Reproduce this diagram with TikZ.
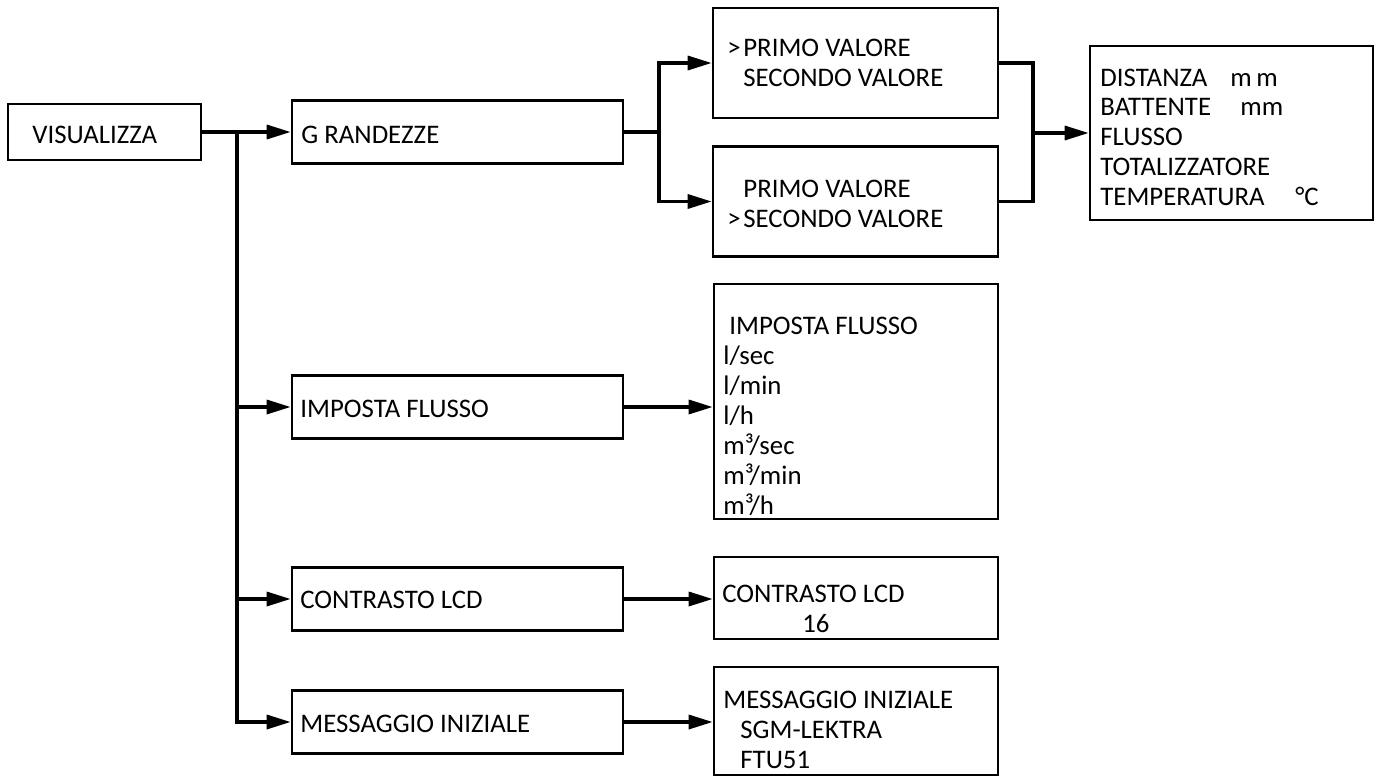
\documentclass[tikz,border=0pt]{standalone}
\usepackage{fontspec}
\setmainfont{Carlito}
\usetikzlibrary{arrows.meta}
\begin{document}
\begin{tikzpicture}[x=0.5pt, y=-0.5pt,
    box/.style={draw, line width=1.3pt, inner sep=0pt},
    txt/.style={anchor=base west, inner sep=0pt, align=left, font=\fontsize{13.4pt}{15pt}\selectfont},
    link/.style={line width=1.65pt},
    arr/.style={line width=1.65pt, -{Triangle[length=12pt, width=7pt]}}]
            \useasboundingbox (0,0) rectangle (1382,776);
            \node[box, minimum width=96.5pt, minimum height=28pt] (vis) at (104.5,132) {};
            \node[box, minimum width=165.5pt, minimum height=31.5pt] (grand) at (457.5,132) {};
            \node[box, minimum width=165.5pt, minimum height=31.5pt] (imp) at (457.5,407) {};
            \node[box, minimum width=165.5pt, minimum height=31.5pt] (contr) at (457.5,599) {};
            \node[box, minimum width=165.5pt, minimum height=31.5pt] (mess) at (457.5,722) {};
            \node[box, minimum width=142.5pt, minimum height=55pt] (primo) at (855.5,63) {};
            \node[box, minimum width=142.5pt, minimum height=55pt] (secondo) at (855.5,201.5) {};
            \node[box, minimum width=141.5pt, minimum height=87pt] (valori) at (1231.5,133) {};
            \node[box, minimum width=142pt, minimum height=117.5pt] (unita) at (856,401.5) {};
            \node[box, minimum width=142pt, minimum height=41pt] (lcd) at (856,598) {};
            \node[box, minimum width=142pt, minimum height=54pt] (logo) at (856,721) {};
            \node[txt] (vis-t) at (32,143) {VISUALIZZA};
            \node[txt] (grand-t) at (301,143) {G RANDEZZE};
            \node[txt] (imp-t) at (300,417) {IMPOSTA FLUSSO};
            \node[txt] (contr-t) at (300,608) {CONTRASTO LCD};
            \node[txt] (mess-t) at (300,732) {MESSAGGIO INIZIALE};
            \node[txt] (primo-t) at (727,86) {\makebox[8pt][l]{>}PRIMO VALORE\\\hspace*{8pt}SECONDO VALORE};
            \node[txt] (secondo-t) at (727,227) {\hspace*{8pt}PRIMO VALORE\\\makebox[8pt][l]{>}SECONDO VALORE};
            \node[txt, font=\fontsize{13.4pt}{14.85pt}\selectfont] (valori-t) at (1100,205) {\makebox[65pt][l]{DISTANZA}m\,m\\\makebox[70pt][l]{BATTENTE}mm\\FLUSSO\\TOTALIZZATORE\\\makebox[97.5pt][l]{TEMPERATURA}°C};
            \node[txt] (unita-t) at (723,514) {\hspace*{3pt}IMPOSTA FLUSSO\\l/sec\\l/min\\l/h\\m³/sec\\m³/min\\m³/h};
            \node[txt] (lcd-t) at (722,632) {CONTRASTO LCD\\\hspace*{40pt}16};
            \node[txt] (logo-t) at (723,768) {MESSAGGIO INIZIALE\\\hspace*{8.5pt}SGM-LEKTRA\\\hspace*{8.5pt}FTU51};
            \coordinate (trunk) at (237,132);
            \coordinate (split) at (659,132);
            \coordinate (join) at (1033,133);
            \draw[arr] (vis.east) -- (grand.west);
            \draw[arr] (trunk) |- (mess.west);
            \draw[arr] (trunk |- imp.west) -- (imp.west);
            \draw[arr] (trunk |- contr.west) -- (contr.west);
            \draw[link] (grand.east) -- (split);
            \draw[arr] (split) |- (primo.west);
            \draw[arr] (split) |- (secondo.west);
            \draw[link] (primo.east) -| (join);
            \draw[link] (secondo.east) -| (join);
            \draw[arr] (join) -- (valori.west);
            \draw[arr] (imp.east) -- (imp.east -| unita.west);
            \draw[arr] (contr.east) -- (contr.east -| lcd.west);
            \draw[arr] (mess.east) -- (mess.east -| logo.west);
        \end{tikzpicture}
\end{document}
